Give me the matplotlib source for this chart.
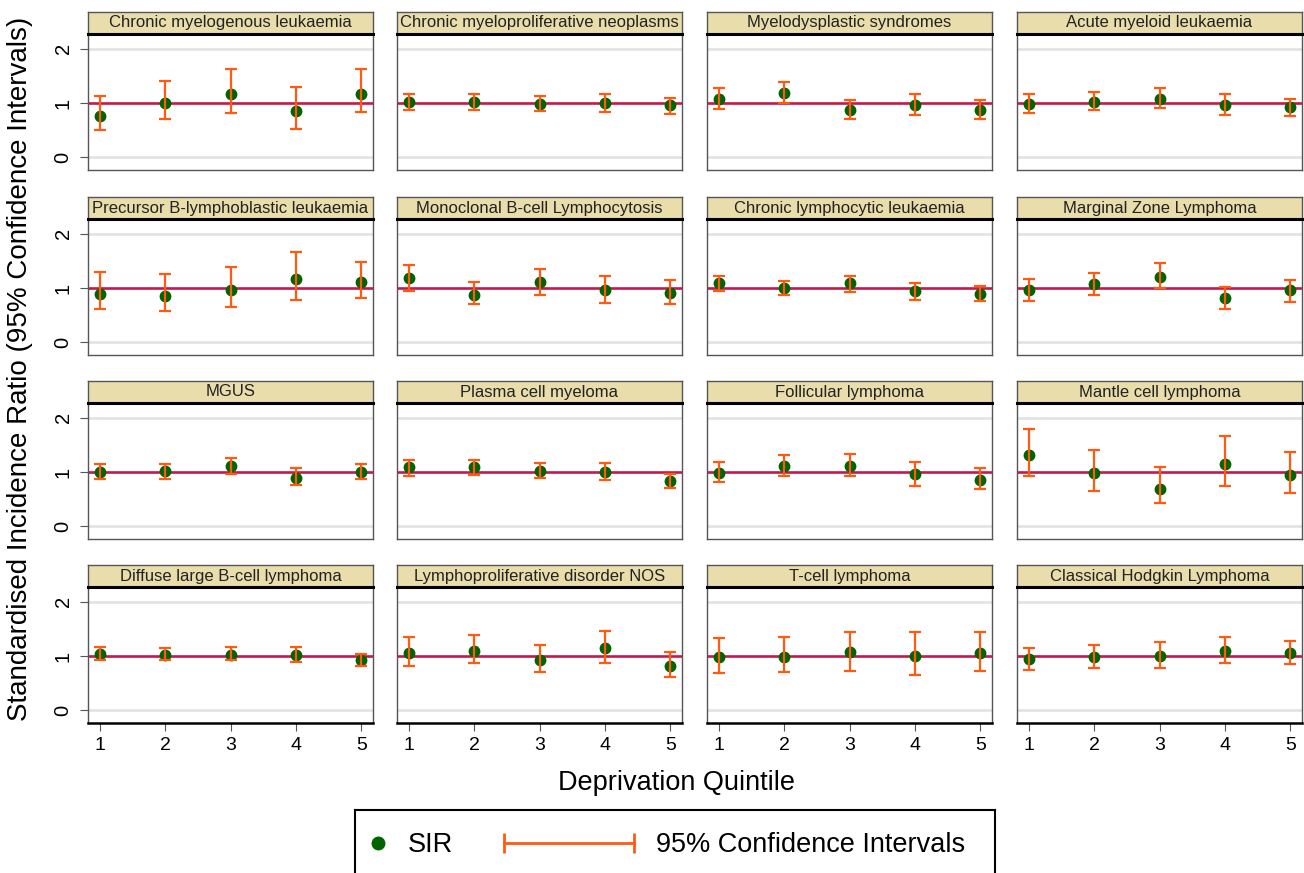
import matplotlib
matplotlib.use("Agg")
import matplotlib.pyplot as plt
from matplotlib.lines import Line2D
from matplotlib.legend_handler import HandlerLine2D

plt.rcParams['font.family'] = ['Liberation Sans', 'DejaVu Sans']

quintiles = [1, 2, 3, 4, 5]

subtypes = [
    "Chronic myelogenous leukaemia", "Chronic myeloproliferative neoplasms",
    "Myelodysplastic syndromes", "Acute myeloid leukaemia",
    "Precursor B-lymphoblastic leukaemia", "Monoclonal B-cell Lymphocytosis",
    "Chronic lymphocytic leukaemia", "Marginal Zone Lymphoma",
    "MGUS", "Plasma cell myeloma", "Follicular lymphoma", "Mantle cell lymphoma",
    "Diffuse large B-cell lymphoma", "Lymphoproliferative disorder NOS",
    "T-cell lymphoma", "Classical Hodgkin Lymphoma",
]

sir = [
    [0.77, 1.01, 1.17, 0.86, 1.17],
    [1.02, 1.02, 0.99, 1.00, 0.96],
    [1.07, 1.19, 0.88, 0.96, 0.88],
    [0.99, 1.02, 1.08, 0.96, 0.92],
    [0.90, 0.85, 0.96, 1.17, 1.11],
    [1.18, 0.88, 1.11, 0.96, 0.91],
    [1.09, 1.01, 1.09, 0.95, 0.90],
    [0.96, 1.07, 1.21, 0.82, 0.96],
    [1.00, 1.02, 1.11, 0.89, 1.00],
    [1.09, 1.09, 1.02, 1.00, 0.84],
    [0.98, 1.11, 1.11, 0.96, 0.86],
    [1.31, 0.98, 0.69, 1.14, 0.94],
    [1.04, 1.02, 1.02, 1.02, 0.92],
    [1.06, 1.10, 0.92, 1.14, 0.81],
    [0.98, 0.99, 1.07, 1.00, 1.05],
    [0.95, 0.98, 1.00, 1.09, 1.05],
]

ci_lower = [
    [0.51, 0.71, 0.81, 0.52, 0.83],
    [0.87, 0.88, 0.85, 0.84, 0.80],
    [0.89, 1.00, 0.70, 0.78, 0.70],
    [0.82, 0.87, 0.91, 0.78, 0.76],
    [0.61, 0.57, 0.65, 0.79, 0.81],
    [0.94, 0.71, 0.87, 0.73, 0.71],
    [0.95, 0.87, 0.93, 0.79, 0.76],
    [0.77, 0.87, 1.00, 0.62, 0.75],
    [0.87, 0.87, 0.96, 0.77, 0.87],
    [0.93, 0.95, 0.89, 0.86, 0.71],
    [0.81, 0.92, 0.92, 0.75, 0.69],
    [0.92, 0.65, 0.43, 0.75, 0.61],
    [0.93, 0.92, 0.92, 0.90, 0.81],
    [0.81, 0.87, 0.71, 0.87, 0.61],
    [0.68, 0.71, 0.73, 0.66, 0.73],
    [0.75, 0.79, 0.79, 0.87, 0.85],
]

ci_upper = [
    [1.13, 1.40, 1.62, 1.29, 1.62],
    [1.16, 1.17, 1.13, 1.17, 1.10],
    [1.28, 1.38, 1.06, 1.17, 1.06],
    [1.17, 1.21, 1.27, 1.17, 1.08],
    [1.30, 1.26, 1.38, 1.66, 1.48],
    [1.42, 1.11, 1.35, 1.23, 1.15],
    [1.23, 1.13, 1.23, 1.09, 1.04],
    [1.17, 1.27, 1.46, 1.02, 1.15],
    [1.14, 1.14, 1.25, 1.07, 1.14],
    [1.23, 1.23, 1.16, 1.16, 0.96],
    [1.18, 1.31, 1.33, 1.19, 1.07],
    [1.79, 1.40, 1.09, 1.66, 1.37],
    [1.17, 1.15, 1.16, 1.16, 1.04],
    [1.35, 1.39, 1.21, 1.47, 1.07],
    [1.33, 1.35, 1.45, 1.44, 1.44],
    [1.15, 1.21, 1.25, 1.35, 1.27],
]

W, H = 1304, 873
GREEN = "#006400"
ORANGE = "#FF5A0F"
RED = "#C8174A"
STRIP = "#E8DDAB"

fig = plt.figure(figsize=(W / 100, H / 100), dpi=100)

col_left = [88, 397, 707, 1017]
row_top = [34, 219, 403, 587]
pw, ph, sh = 285, 136, 22


def rect(x, top, w, h):
    return [x / W, 1 - (top + h) / H, w / W, h / H]


for i, name in enumerate(subtypes):
    r, c = divmod(i, 4)
    ax = fig.add_axes(rect(col_left[c], row_top[r], pw, ph))
    lo = [s - l for s, l in zip(sir[i], ci_lower[i])]
    hi = [u - s for s, u in zip(sir[i], ci_upper[i])]

    for g in (0, 2):
        ax.axhline(g, color="#E4E4E4", lw=2, zorder=0)
    ax.axhline(1, color=RED, lw=1.9, zorder=1)
    ax.plot(quintiles, sir[i], "o", color=GREEN, ms=7.5, zorder=2)
    ax.errorbar(quintiles, sir[i], yerr=[lo, hi], fmt="none", ecolor=ORANGE,
                elinewidth=1.6, capsize=4, capthick=1.6, zorder=3)

    ax.set_xlim(0.82, 5.18)
    ax.set_ylim(-0.23, 2.27)
    for sp in ax.spines.values():
        sp.set_color("#555555")
        sp.set_linewidth(1)

    ax.set_yticks([0, 1, 2])
    if c == 0:
        ax.tick_params(axis="y", direction="out", length=6, color="#555555",
                       labelsize=14.5, pad=5)
        for lab in ax.get_yticklabels():
            lab.set_rotation(90)
            lab.set_va("center")
    else:
        ax.tick_params(axis="y", left=False, labelleft=False)

    ax.set_xticks(quintiles)
    if r == 3:
        ax.tick_params(axis="x", direction="out", length=6, color="#555555",
                       labelsize=14, pad=4)
        ax.spines["bottom"].set_color("black")
        ax.spines["bottom"].set_linewidth(1.8)
    else:
        ax.tick_params(axis="x", bottom=False, labelbottom=False)

    # panel header strip
    sax = fig.add_axes(rect(col_left[c], row_top[r] - sh, pw, sh))
    sax.set_facecolor(STRIP)
    sax.set_xticks([])
    sax.set_yticks([])
    for sp in sax.spines.values():
        sp.set_color("#555555")
        sp.set_linewidth(1)
    sax.spines["bottom"].set_color("black")
    sax.spines["bottom"].set_linewidth(2.2)
    sax.text(0.5, 0.5, name, ha="center", va="center", fontsize=12,
             color="#222222", transform=sax.transAxes)

fig.text(20 / W, 1 - 369 / H, "Standardised Incidence Ratio (95% Confidence Intervals)",
         rotation=90, ha="center", va="center", fontsize=20)
fig.text(676 / W, 1 - 783 / H, "Deprivation Quintile", ha="center", va="center",
         fontsize=19.5)

# legend box, running off the bottom edge
leg_h = (873 - 810) / H + 0.05
lax = fig.add_axes([355 / W, -0.05, 640 / W, leg_h])
lax.set_xticks([])
lax.set_yticks([])
for sp in lax.spines.values():
    sp.set_color("black")
    sp.set_linewidth(1.5)

row_y = 1 - 35 / (leg_h * H)
sir_handle = Line2D([], [], ls="none", marker="o", color=GREEN, ms=9)
ci_handle = Line2D([], [], color=ORANGE, lw=2, marker="|", ms=14, mew=2)

leg1 = lax.legend([sir_handle], ["SIR"], loc="center left",
                  bbox_to_anchor=(-0.024, row_y), frameon=False,
                  fontsize=19.5, handlelength=1.0, handletextpad=0.6,
                  handler_map={sir_handle: HandlerLine2D(numpoints=1)})
lax.add_artist(leg1)
lax.legend([ci_handle], ["95% Confidence Intervals"], loc="center left",
           bbox_to_anchor=(0.182, row_y), frameon=False, fontsize=19.5,
           handlelength=5.4, handletextpad=0.5,
           handler_map={ci_handle: HandlerLine2D(numpoints=2)})

fig.savefig("out.png", dpi=100)
